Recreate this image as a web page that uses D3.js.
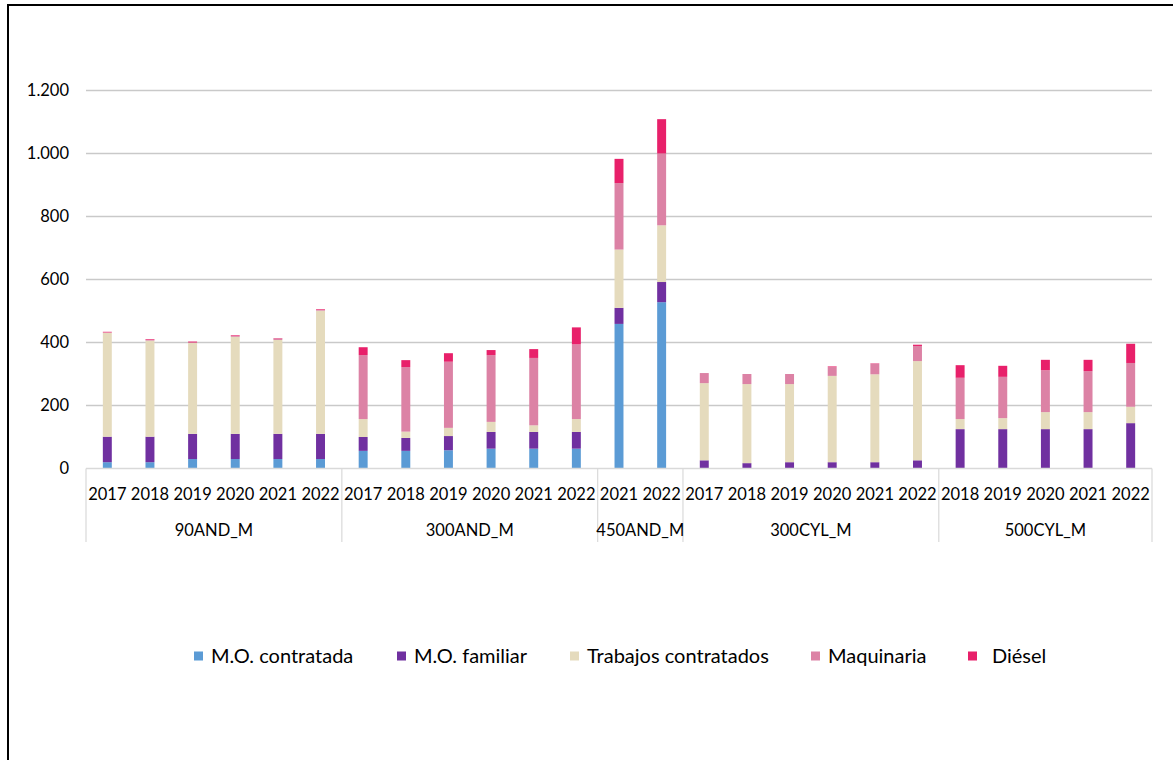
<!DOCTYPE html>
<html><head><meta charset="utf-8">
<script src="https://cdn.jsdelivr.net/npm/d3@7"></script>
<style>
html,body{margin:0;padding:0;background:#fff;}
svg{display:block;font-family:"Lato","Liberation Sans",sans-serif;}
</style></head>
<body><svg id="chart" width="1173" height="760"></svg>
<script>
const groups = ["90AND_M","300AND_M","450AND_M","300CYL_M","500CYL_M"];
const groupYears = [
  ["2017","2018","2019","2020","2021","2022"],
  ["2017","2018","2019","2020","2021","2022"],
  ["2021","2022"],
  ["2017","2018","2019","2020","2021","2022"],
  ["2018","2019","2020","2021","2022"]
];
const seriesNames = ["M.O. contratada","M.O. familiar","Trabajos contratados","Maquinaria","Diésel"];
const moContratada = [20,20,30,30,30,30, 56,56,58,63,63,63, 459,528, 0,0,0,0,0,0, 0,0,0,0,0];
const moFamiliar   = [81,81,80,80,80,80, 44,41,45,53,53,53, 51,64, 26,17,20,20,20,26, 125,125,125,125,144];
const trabajos     = [330,305,289,308,298,391, 57,20,26,32,21,41, 185,180, 245,251,248,274,279,315, 32,35,54,54,52];
const maquinaria   = [1,3,1,3,5,3, 203,205,210,212,214,237, 211,228, 32,32,32,28,34,48, 131,131,133,130,139];
const diesel       = [2,2,3,2,1,2, 25,22,27,16,28,54, 77,109, 0,0,0,2,1,4, 40,35,33,36,61];
const yTicks = [0,200,400,600,800,1000,1200];
const colors = ["#5b9bd5","#7030a0","#e5dbbd","#dc82a5","#e8206a"];

const seriesVals = [moContratada, moFamiliar, trabajos, maquinaria, diesel];
const cats = [];
groups.forEach((g,gi)=>groupYears[gi].forEach(y=>cats.push({group:g, year:y, key:g+"|"+y})));
const rows = cats.map((c,i)=>{const r={key:c.key}; seriesNames.forEach((s,si)=>r[s]=seriesVals[si][i]); return r;});

const svg = d3.select("#chart");
const L=86, R=1152, T=90.5, B=468.5;

svg.append("rect").attr("x",8).attr("y",5).attr("width",1180).attr("height",770)
  .attr("fill","none").attr("stroke","#000").attr("stroke-width",2);

const x = d3.scaleBand().domain(cats.map(c=>c.key)).range([L,R]).paddingInner(0.79).paddingOuter(0.395);
const y = d3.scaleLinear().domain([0,1200]).range([B,T]);

// gridlines
svg.append("g").selectAll("line").data(yTicks.filter(t=>t>0)).join("line")
  .attr("x1",L).attr("x2",R).attr("y1",d=>y(d)).attr("y2",d=>y(d))
  .attr("stroke","#c9c9c9").attr("stroke-width",1.3);

// y labels
const fmt = d3.formatLocale({decimal:",",thousands:".",grouping:[3],currency:["",""]}).format(",d");
svg.append("g").selectAll("text").data(yTicks).join("text")
  .attr("x",69).attr("y",d=>y(d)).attr("dy","0.35em").attr("text-anchor","end")
  .attr("font-size",16.5).attr("fill","#000").text(d=>fmt(d));

// bars
const stack = d3.stack().keys(seriesNames)(rows);
svg.append("g").selectAll("g").data(stack).join("g")
  .attr("fill",(d,i)=>colors[i])
  .selectAll("rect").data(d=>d).join("rect")
  .attr("x",d=>x(d.data.key)).attr("width",x.bandwidth())
  .attr("y",d=>y(d[1])).attr("height",d=>Math.max(0,y(d[0])-y(d[1])));

// category axis
svg.append("line").attr("x1",L).attr("x2",R).attr("y1",B).attr("y2",B).attr("stroke","#d9d9d9").attr("stroke-width",1.5);
svg.append("g").selectAll("text").data(cats).join("text")
  .attr("x",d=>x(d.key)+x.bandwidth()/2).attr("y",494).attr("dy","0.35em")
  .attr("text-anchor","middle").attr("font-size",16.5).attr("fill","#000").text(d=>d.year);

// group separators and labels
let idx=0; const bounds=[L];
groupYears.forEach(g=>{idx+=g.length; bounds.push(L+(R-L)*idx/cats.length);});
svg.append("g").selectAll("line").data(bounds).join("line")
  .attr("x1",d=>d).attr("x2",d=>d).attr("y1",B).attr("y2",542)
  .attr("stroke","#d9d9d9").attr("stroke-width",1.2);
svg.append("g").selectAll("text").data(groups).join("text")
  .attr("x",(d,i)=>(bounds[i]+bounds[i+1])/2).attr("y",530).attr("dy","0.35em")
  .attr("text-anchor","middle").attr("font-size",16.5).attr("fill","#000").text(d=>d);

// legend
const legX = [194,397,570,811,968];
const lg = svg.append("g").selectAll("g").data(seriesNames).join("g")
  .attr("transform",(d,i)=>`translate(${legX[i]},656)`);
lg.append("rect").attr("x",0).attr("y",-4.5).attr("width",9).attr("height",9).attr("fill",(d,i)=>colors[i]);
lg.append("text").attr("x",(d,i)=>i===4?24:17).attr("dy","0.35em").attr("font-size",20).attr("fill","#000").text(d=>d);
</script></body></html>
